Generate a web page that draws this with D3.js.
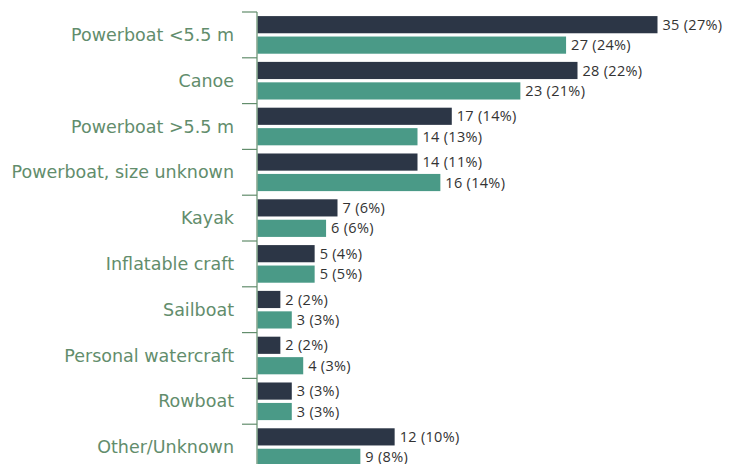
<!DOCTYPE html>
<html>
<head>
<meta charset="utf-8">
<script src="https://cdn.jsdelivr.net/npm/d3@7"></script>
<style>
  body { margin: 0; background: #fff; }
  svg { display: block; }
</style>
</head>
<body>
<svg id="chart" width="739" height="464"></svg>
<script>
// vessel types, two years side by side (dark = first, teal = second)
let categories = ["Powerboat <5.5 m", "Canoe", "Powerboat >5.5 m", "Powerboat, size unknown",
  "Kayak", "Inflatable craft", "Sailboat", "Personal watercraft", "Rowboat", "Other/Unknown"];
let countsA = [35, 28, 17, 14, 7, 5, 2, 2, 3, 12];
let pctA    = [27, 22, 14, 11, 6, 4, 2, 2, 3, 10];
let countsB = [27, 23, 14, 16, 6, 5, 3, 4, 3, 9];
let pctB    = [24, 21, 13, 14, 6, 5, 3, 3, 3, 8];

let DARK = "#2c3646";
let TEAL = "#4a9a87";
let LABEL = "#628d6c";

let svg = d3.select("#chart");

// axis sits at x=257, 35 units reach ~657
let x = d3.scaleLinear().domain([0, 35]).range([257.5, 657.5]);
let y = d3.scaleBand().domain(categories).range([12, 12 + 45.8 * categories.length]);
let inner = d3.scaleBand().domain(["a", "b"]).range([0, y.bandwidth()])
  .paddingInner(0.16).paddingOuter(0.2);

let rows = categories.map(function(c, i) {
  return [
    {cat: c, key: "a", v: countsA[i], p: pctA[i], fill: DARK},
    {cat: c, key: "b", v: countsB[i], p: pctB[i], fill: TEAL}
  ];
}).flat();

svg.selectAll("rect.bar")
  .data(rows)
  .enter().append("rect")
    .attr("class", "bar")
    .attr("x", x(0))
    .attr("y", function(d) { return y(d.cat) + inner(d.key); })
    .attr("width", function(d) { return x(d.v) - x(0); })
    .attr("height", inner.bandwidth())
    .attr("fill", function(d) { return d.fill; });

svg.selectAll("text.val")
  .data(rows)
  .enter().append("text")
    .attr("class", "val")
    .attr("x", function(d) { return x(d.v) + 5; })
    .attr("y", function(d) { return y(d.cat) + inner(d.key) + inner.bandwidth() / 2; })
    .attr("dy", "0.35em")
    .attr("font-family", "'Open Sans', sans-serif")
    .attr("font-size", 14.5)
    .attr("letter-spacing", 0.3)
    .attr("fill", "#333")
    .text(function(d) { return d.v + " (" + d.p + "%)"; });

// category axis: ticks at band boundaries, labels centred in band
let axisG = svg.append("g");
axisG.append("line")
  .attr("x1", 257).attr("x2", 257)
  .attr("y1", y.range()[0]).attr("y2", 464)
  .attr("stroke", LABEL).attr("stroke-width", 1.2);

let bounds = categories.map(function(c) { return y(c); });
axisG.selectAll("line.tick")
  .data(bounds)
  .enter().append("line")
    .attr("class", "tick")
    .attr("x1", 242).attr("x2", 257)
    .attr("y1", function(d) { return d; }).attr("y2", function(d) { return d; })
    .attr("stroke", LABEL).attr("stroke-width", 1.2);

axisG.selectAll("text.cat")
  .data(categories)
  .enter().append("text")
    .attr("class", "cat")
    .attr("x", 234)
    .attr("y", function(d) { return y(d) + y.bandwidth() / 2; })
    .attr("dy", "0.35em")
    .attr("text-anchor", "end")
    .attr("font-family", "'DejaVu Sans', sans-serif")
    .attr("font-size", 17.5)
    .attr("fill", LABEL)
    .text(function(d) { return d; });
</script>
</body>
</html>
